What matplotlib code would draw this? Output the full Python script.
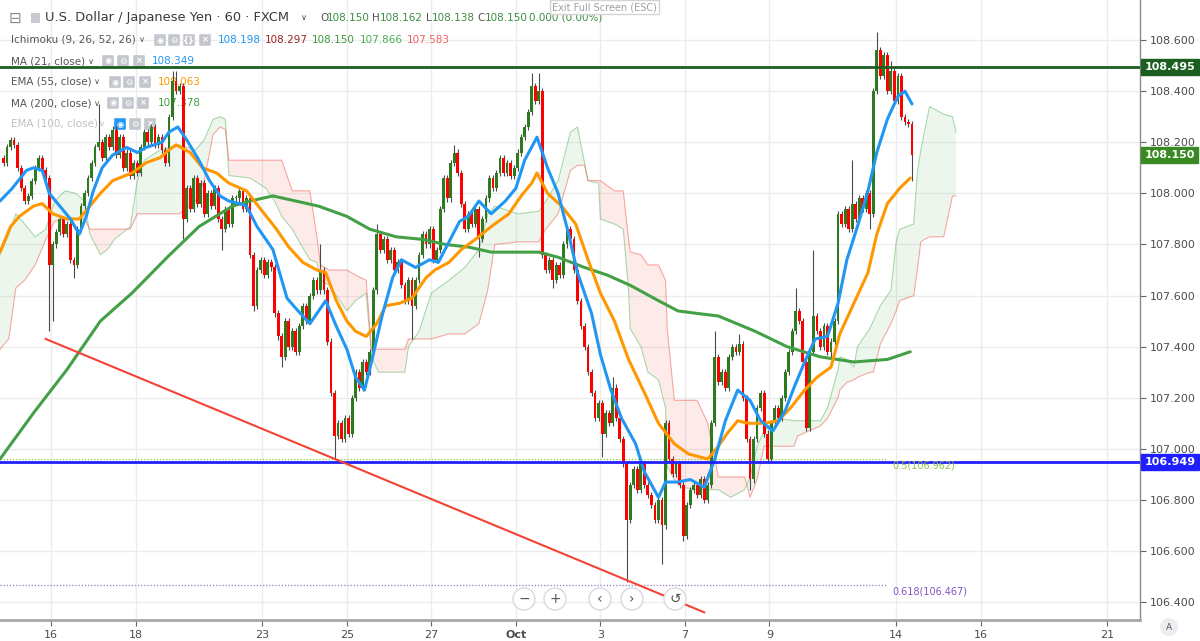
import numpy as np
import matplotlib
matplotlib.use("Agg")
import matplotlib.pyplot as plt
import matplotlib.transforms as mtrans
from matplotlib.patches import Circle, Rectangle, FancyBboxPatch

plt.rcParams['font.family'] = ['DejaVu Sans']

# USD/JPY, 2-hour closes (x axis = trading hours from Sep 16)
closes = [
    108.12, 108.18, 108.21, 108.19, 108.10, 108.02, 107.97, 107.99, 108.05, 108.10,
    108.14, 108.09, 108.06, 107.72, 107.80, 107.85, 107.90, 107.84, 107.88, 107.74,
    107.72, 107.86, 107.95, 108.00, 108.06, 108.12, 108.18, 108.20, 108.14, 108.22,
    108.18, 108.25, 108.15, 108.22, 108.10, 108.16, 108.07, 108.12, 108.08, 108.18,
    108.24, 108.20, 108.26, 108.19, 108.22, 108.17, 108.12, 108.30, 108.44, 108.40,
    108.42, 107.90, 108.02, 107.94, 108.06, 107.96, 108.04, 107.92, 108.00, 107.95,
    108.02, 107.90, 107.86, 107.94, 107.88, 107.98, 107.98, 108.01, 107.94, 107.98,
    107.76, 107.56, 107.70, 107.74, 107.68, 107.73, 107.71, 107.53, 107.44, 107.36,
    107.50, 107.40, 107.46, 107.38, 107.48, 107.56, 107.50, 107.60, 107.66, 107.62,
    107.70, 107.62, 107.42, 107.22, 107.05, 107.10, 107.04, 107.12, 107.06, 107.20,
    107.30, 107.24, 107.34, 107.30, 107.38, 107.62, 107.84, 107.78, 107.82, 107.74,
    107.78, 107.70, 107.73, 107.64, 107.58, 107.66, 107.56, 107.66, 107.76, 107.84,
    107.80, 107.86, 107.74, 107.78, 107.94, 108.06, 107.98, 108.12, 108.16, 108.08,
    107.96, 107.86, 107.92, 107.88, 107.94, 107.82, 107.90, 107.98, 108.06, 108.02,
    108.08, 108.14, 108.08, 108.12, 108.07, 108.10, 108.16, 108.22, 108.26, 108.32,
    108.42, 108.36, 108.40, 107.76, 107.70, 107.74, 107.66, 107.72, 107.68, 107.80,
    107.86, 107.82, 107.70, 107.58, 107.48, 107.40, 107.30, 107.22, 107.12, 107.18,
    107.06, 107.14, 107.10, 107.24, 107.12, 107.04, 106.94, 106.72, 106.86, 106.92,
    106.84, 106.94, 106.86, 106.82, 106.78, 106.72, 106.80, 106.70, 107.10, 106.96,
    106.90, 106.94, 106.86, 106.66, 106.78, 106.84, 106.86, 106.82, 106.88, 106.80,
    106.86, 107.10, 107.36, 107.26, 107.30, 107.24, 107.36, 107.40, 107.38, 107.41,
    107.20, 107.04, 106.88, 107.04, 107.16, 107.22, 107.06, 106.96, 107.10, 107.16,
    107.12, 107.20, 107.30, 107.38, 107.46, 107.54, 107.50, 107.34, 107.08, 107.38,
    107.52, 107.46, 107.40, 107.48, 107.38, 107.42, 107.50, 107.92, 107.88, 107.94,
    107.86, 107.96, 107.90, 107.98, 107.94, 108.00, 107.92, 108.40, 108.56, 108.46,
    108.54, 108.40, 108.48, 108.36, 108.46, 108.30, 108.28, 108.27, 108.15,
]
first_open = 108.14
wick_hi = {27: 108.35, 48: 108.48, 49: 108.48, 90: 107.80, 106: 107.88, 128: 108.19,
           150: 108.47, 152: 108.47, 173: 107.28, 202: 107.46, 209: 107.45, 225: 107.63,
           230: 107.78, 241: 108.13, 248: 108.63, 252: 108.52}
wick_lo = {13: 107.46, 14: 107.50, 20: 107.67, 51: 107.82, 62: 107.78, 71: 107.54,
           79: 107.32, 94: 106.96, 116: 107.43, 135: 107.75, 156: 107.63, 170: 106.97,
           177: 106.48, 187: 106.55, 193: 106.64, 212: 106.84, 217: 106.95, 235: 107.35,
           246: 107.86, 258: 108.05}

ma21_h = [-29, -22, -14, -10, -5, -1, 5, 11, 16, 20, 24, 29, 35, 43, 49, 54, 63, 67,
          72, 77, 84, 90, 96, 101, 107, 111, 117, 126, 134, 139, 147, 152, 156, 162, 168, 173,
          178, 182, 188, 194, 199, 207, 215, 220, 226, 232, 237, 243, 250, 258, 264, 269, 276, 282,
          288, 294, 299, 307, 312, 318, 324, 332, 337, 345, 349, 356, 363, 371, 377, 383, 390, 397,
          403, 410, 417, 422, 428, 434, 441, 447, 452, 458, 464, 469, 475, 481, 485, 489]
ma21 = [107.97, 108.02, 108.09, 108.10, 108.09, 108.00, 107.95, 107.90, 107.84, 107.91, 108.01, 108.10,
        108.15, 108.18, 108.16, 108.18, 108.20, 108.24, 108.26, 108.21, 108.13, 108.05, 107.99, 107.97,
        107.96, 107.95, 107.87, 107.78, 107.59, 107.55, 107.49, 107.54, 107.58, 107.48, 107.39, 107.28,
        107.23, 107.34, 107.52, 107.67, 107.74, 107.71, 107.74, 107.73, 107.81, 107.89, 107.91, 107.97,
        107.92, 107.97, 108.02, 108.13, 108.22, 108.10, 108.00, 107.84, 107.69, 107.53, 107.37, 107.23,
        107.12, 107.02, 106.91, 106.81, 106.87, 106.87, 106.88, 106.85, 106.96, 107.11, 107.23, 107.19,
        107.11, 107.07, 107.15, 107.24, 107.34, 107.43, 107.44, 107.57, 107.74, 107.87, 108.01, 108.16,
        108.29, 108.38, 108.40, 108.35]

ema55_h = [-29, -23, -18, -10, -5, 1, 9, 16, 22, 28, 35, 46, 54, 62, 67, 71, 79, 86, 94, 101,
           111, 120, 128, 135, 143, 151, 156, 162, 168, 173, 179, 185, 190, 198, 205, 213, 218, 226,
           233, 241, 250, 260, 267, 273, 276, 282, 290, 298, 305, 312, 320, 328, 337, 345, 354, 362,
           373, 379, 384, 390, 396, 405, 413, 420, 428, 435, 443, 448, 456, 464, 469, 475, 482, 488]
ema55 = [107.77, 107.87, 107.91, 107.95, 107.96, 107.92, 107.90, 107.90, 107.95, 108.00,
         108.05, 108.08, 108.12, 108.14, 108.17, 108.19, 108.16, 108.10, 108.08, 108.04,
         108.01, 107.93, 107.86, 107.79, 107.73, 107.70, 107.69, 107.58, 107.50, 107.46,
         107.44, 107.49, 107.56, 107.57, 107.59, 107.67, 107.70, 107.73, 107.78, 107.82,
         107.87, 107.92, 107.99, 108.04, 108.08, 108.00, 107.95, 107.88, 107.74, 107.61,
         107.50, 107.35, 107.22, 107.10, 107.02, 106.98, 106.96, 107.01, 107.06, 107.11,
         107.10, 107.10, 107.11, 107.16, 107.23, 107.28, 107.32, 107.45, 107.57, 107.69,
         107.84, 107.96, 108.02, 108.06]

ma200_h = [-29, -10, 9, 28, 46, 66, 84, 103, 113, 126, 139, 152, 168, 181, 196, 211, 224, 237,
           250, 269, 277, 288, 303, 316, 329, 345, 356, 367, 379, 400, 418, 437, 456, 475, 488]
ma200 = [106.96, 107.14, 107.31, 107.50, 107.61, 107.75, 107.87, 107.95, 107.97, 107.99,
         107.97, 107.95, 107.91, 107.86, 107.83, 107.82, 107.80, 107.79, 107.77, 107.77,
         107.77, 107.75, 107.71, 107.68, 107.64, 107.58, 107.54, 107.53, 107.52, 107.46,
         107.40, 107.36, 107.34, 107.35, 107.38]

# Ichimoku cloud (leading spans, already shifted 26 bars forward)
cloud_h = [-29, -24, -20, -15, -9, -3, 2, 8, 14, 19, 22, 28, 32, 36, 45, 49, 53, 62, 73, 82,
           87, 92, 96, 99, 101, 113, 122, 127, 131, 137, 141, 147, 151, 153, 158, 168, 173, 179,
           182, 186, 201, 203, 209, 216, 226, 235, 243, 248, 252, 265, 277, 281, 288, 295, 299,
           303, 305, 311, 312, 320, 325, 328, 329, 335, 339, 345, 349, 350, 354, 358, 367, 373,
           379, 386, 394, 397, 401, 405, 413, 422, 424, 437, 441, 447, 448, 452, 456, 458, 465,
           467, 471, 477, 480, 482, 490, 492, 494, 496, 499, 507, 512, 514]
span_a = [107.76, 107.84, 107.92, 107.88, 107.83, 107.86, 107.97, 108.01, 108.00, 107.97,
          107.84, 107.76, 107.78, 107.82, 107.87, 108.05, 108.13, 108.17, 108.19, 108.17,
          108.21, 108.29, 108.30, 108.29, 108.07, 108.06, 108.02, 107.97, 107.91, 107.86,
          107.81, 107.74, 107.73, 107.66, 107.64, 107.54, 107.58, 107.61, 107.36, 107.30,
          107.30, 107.40, 107.46, 107.61, 107.66, 107.71, 107.78, 107.92, 107.95, 107.92,
          107.93, 107.97, 108.05, 108.24, 108.26, 108.12, 108.05, 108.04, 107.90, 107.88,
          107.86, 107.62, 107.47, 107.40, 107.30, 107.27, 107.16, 106.93, 106.88, 106.85,
          106.84, 106.84, 106.84, 106.81, 106.84, 106.89, 107.01, 107.07, 107.12, 107.11,
          107.11, 107.11, 107.16, 107.31, 107.36, 107.35, 107.32, 107.40, 107.47, 107.50,
          107.56, 107.62, 107.81, 107.86, 107.88, 108.08, 108.17, 108.24, 108.34, 108.31,
          108.30, 108.24]
span_b = [107.39, 107.43, 107.63, 107.66, 107.72, 107.82, 107.89, 107.90, 107.90, 107.90,
          107.86, 107.86, 107.86, 107.86, 107.86, 107.92, 107.92, 107.92, 107.92, 107.97,
          108.05, 108.23, 108.26, 108.25, 108.13, 108.13, 108.13, 108.13, 108.13, 108.01,
          108.01, 108.01, 107.83, 107.72, 107.70, 107.70, 107.68, 107.66, 107.39, 107.39,
          107.39, 107.43, 107.43, 107.43, 107.45, 107.45, 107.49, 107.62, 107.80, 107.81,
          107.81, 107.86, 107.92, 108.09, 108.11, 108.11, 108.05, 108.05, 108.05, 108.01,
          108.01, 107.82, 107.77, 107.76, 107.72, 107.72, 107.66, 107.47, 107.19, 107.19,
          107.19, 107.10, 106.89, 106.89, 106.89, 106.81, 106.88, 107.01, 107.01, 107.01,
          107.05, 107.09, 107.12, 107.20, 107.23, 107.26, 107.27, 107.28, 107.30, 107.30,
          107.41, 107.49, 107.54, 107.58, 107.60, 107.70, 107.81, 107.82, 107.83, 107.83,
          107.99, 107.99]

res_level = 108.495
sup_level = 106.949
last_price = 108.150
fib_50 = 106.962
fib_618 = 106.467
trend_h = [-3, 371]
trend_p = [107.43, 106.36]

price_ticks = [106.4, 106.6, 106.8, 107.0, 107.2, 107.4, 107.6, 107.8, 108.0, 108.2, 108.4, 108.6]
day_ticks = [0, 2, 5, 7, 9, 11, 13, 15, 17, 20, 22, 25]
day_labels = ['16', '18', '23', '25', '27', 'Oct', '3', '7', '9', '14', '16', '21']

# ---------------------------------------------------------------
W, H = 1200, 641
fig = plt.figure(figsize=(W / 100, H / 100), dpi=100)
ax = fig.add_axes([0, 21 / H, 1140 / W, 620 / H])
ax.set_xlim(-29, 618.5)
ax.set_ylim(106.330, 108.757)

# pixel coordinates (origin top-left) for the overlay widgets
pix = mtrans.Affine2D().scale(1 / W, -1 / H).translate(0, 1) + fig.transFigure

for p in price_ticks:
    ax.axhline(p, color='#ececec', lw=1, zorder=0)
for d in day_ticks:
    ax.axvline(d * 24, color='#ececec', lw=1, zorder=0)

# cloud
ca, cb = np.array(span_a), np.array(span_b)
ax.fill_between(cloud_h, ca, cb, where=ca >= cb, interpolate=True, color='#4caf50', alpha=0.10, lw=0, zorder=1)
ax.fill_between(cloud_h, ca, cb, where=ca < cb, interpolate=True, color='#f44336', alpha=0.10, lw=0, zorder=1)
ax.plot(cloud_h, ca, color='#4caf50', alpha=0.45, lw=0.8, zorder=1)
ax.plot(cloud_h, cb, color='#f44336', alpha=0.45, lw=0.8, zorder=1)

# candles
cl = np.array(closes)
op = np.array([first_open] + closes[:-1])
bar_h = np.arange(len(cl)) * 2 - 27
hi = np.maximum(op, cl) + 0.012
lo = np.minimum(op, cl) - 0.012
for k, v in wick_hi.items():
    hi[k] = max(hi[k], v)
for k, v in wick_lo.items():
    lo[k] = min(lo[k], v)
up = cl >= op
ax.vlines(bar_h, lo, hi, color='#4a4a4a', lw=0.8, zorder=3)
ax.bar(bar_h, np.maximum(np.abs(cl - op), 0.004), bottom=np.minimum(op, cl), width=1.6,
       color=np.where(up, '#2d7a1f', '#ff0000'), lw=0, zorder=4)

# moving averages
ax.plot(ma200_h, ma200, color='#43a047', lw=2.2, zorder=5, solid_capstyle='round')
ax.plot(ema55_h, ema55, color='#ff9800', lw=2.2, zorder=6, solid_capstyle='round')
ax.plot(ma21_h, ma21, color='#2196f3', lw=2.2, zorder=7, solid_capstyle='round')

# drawings
ax.axhline(res_level, color='#1b5e20', lw=2, zorder=8)
ax.axhline(sup_level, color='#1f1fff', lw=2, zorder=8)
ax.plot(trend_h, trend_p, color='#f44336', lw=1.5, zorder=8)
ax.hlines(fib_50, -29, 475, color='#8bc34a', lw=0.9, linestyles=(0, (1, 1.5)), zorder=2)
ax.hlines(fib_618, -29, 475, color='#9575cd', lw=0.9, linestyles=(0, (1, 1.5)), zorder=2)
ax.annotate('0.5(106.962)', (478, fib_50), xytext=(0, -5), textcoords='offset points',
            va='center', ha='left', fontsize=7, color='#8bc34a', zorder=9)
ax.annotate('0.618(106.467)', (478, fib_618), xytext=(0, -5), textcoords='offset points',
            va='center', ha='left', fontsize=7, color='#7e57c2', zorder=9)

# axes styling
for s in ['top', 'left']:
    ax.spines[s].set_visible(False)
ax.spines['right'].set_color('#8a8a8a')
ax.spines['right'].set_linewidth(1)
ax.spines['bottom'].set_color('#a8a8a8')
ax.spines['bottom'].set_linewidth(2)
ax.yaxis.tick_right()
ax.set_yticks(price_ticks)
ax.set_yticklabels([f'{p:.3f}' for p in price_ticks])
ax.tick_params(axis='y', length=4, width=0.8, color='#666666', labelsize=8, labelcolor='#4d4d4d', pad=3)
ax.set_xticks([d * 24 for d in day_ticks])
ax.set_xticklabels(day_labels)
ax.tick_params(axis='x', length=4, width=0.8, color='#666666', labelsize=8, labelcolor='#4d4d4d', pad=3)
for t in ax.get_xticklabels():
    if t.get_text() == 'Oct':
        t.set_fontweight('bold')

trans = mtrans.blended_transform_factory(ax.transAxes, ax.transData)
for val, col in [(res_level, '#1b5e20'), (last_price, '#3a8a24'), (sup_level, '#1f1fff')]:
    ax.text(1.004, val, f'{val:.3f}', transform=trans, ha='left', va='center', fontsize=8,
            fontweight='bold', color='white', clip_on=False, zorder=20,
            bbox=dict(boxstyle='square,pad=0.3', fc=col, ec=col))

# header / legend (under the candles like in the screenshot)
def label(x, y, s, color='#555555', size=7.5, **kw):
    ax.text(x, y, s, transform=pix, color=color, fontsize=size, va='center', ha='left', zorder=2, **kw)

def icons(xs, y, glyphs, first_col='#c3c6cc'):
    for i, (x, g) in enumerate(zip(xs, glyphs)):
        fc = first_col if i == 0 else '#c3c6cc'
        ax.add_patch(FancyBboxPatch((x - 5, y - 5), 10, 10, boxstyle='round,pad=0.8', fc=fc, ec='none',
                                    transform=pix, zorder=2, clip_on=False))
        ax.text(x, y, g, transform=pix, color='white', fontsize=6, ha='center', va='center',
                zorder=2, fontweight='bold')

label(9, 18, '⊟', color='#888888', size=11)
ax.add_patch(Rectangle((31, 13), 9, 10, fc='#c8cbd1', ec='none', transform=pix, zorder=2, clip_on=False))
label(45, 18, 'U.S. Dollar / Japanese Yen · 60 · FXCM', color='#3a3a3a', size=9.4)
label(301, 18, '∨', color='#444444', size=6)
for s, x, c in [('O', 320, '#555555'), ('108.150', 327, '#3d8c40'), ('H', 372, '#555555'),
                ('108.162', 380, '#3d8c40'), ('L', 426, '#555555'), ('108.138', 432, '#3d8c40'),
                ('C', 477, '#555555'), ('108.150', 485, '#3d8c40'), ('0.000 (0.00%)', 529, '#3d8c40')]:
    label(x, 18, s, color=c, size=7.5)

label(11, 40, 'Ichimoku (9, 26, 52, 26)')
label(139, 40, '∨', size=6)
icons([160, 174, 189, 205], 40, ['◉', '⚙', '{}', '×'])
for s, x, c in [('108.198', 218, '#2196f3'), ('108.297', 265, '#992222'), ('108.150', 312, '#3c9a3c'),
                ('107.866', 360, '#4caf50'), ('107.583', 407, '#f06060')]:
    label(x, 40, s, color=c)

label(11, 61, 'MA (21, close)')
label(88, 61, '∨', size=6)
icons([108, 123, 139], 61, ['◉', '⚙', '×'])
label(152, 61, '108.349', color='#2196f3')

label(11, 82, 'EMA (55, close)')
label(94, 82, '∨', size=6)
icons([115, 129, 145], 82, ['◉', '⚙', '×'])
label(158, 82, '108.063', color='#ff9800')

label(11, 103, 'MA (200, close)')
label(94, 103, '∨', size=6)
icons([113, 128, 143], 103, ['◉', '⚙', '×'])
label(158, 103, '107.378', color='#43a047')

label(11, 124, 'EMA (100, close)', color='#c0c0c0')
label(99, 124, '∨', color='#c0c0c0', size=6)
icons([120, 135, 150], 124, ['◉', '⚙', '×'], first_col='#2196f3')

# floating widgets
fig.text(552 / W, 1 - 7 / H, 'Exit Full Screen (ESC)', fontsize=7, color='#a0a0a0', va='center',
         bbox=dict(boxstyle='square,pad=0.25', fc='white', ec='#d4d4d4'))
for x, g in [(524, '−'), (555, '+'), (600, '‹'), (632, '›'), (675, '↺')]:
    fig.add_artist(Circle((x, 599), 11, transform=pix, fc='white', ec='#d8dae0', lw=1))
    fig.text(x / W, 1 - 599 / H, g, ha='center', va='center', fontsize=10, color='#555555')
fig.add_artist(Circle((1169, 627), 9, transform=pix, fc='#eceef2', ec='none'))
fig.text(1169 / W, 1 - 627 / H, 'A', ha='center', va='center', fontsize=6.5, color='#555555')

fig.savefig('out.png', dpi=100)
